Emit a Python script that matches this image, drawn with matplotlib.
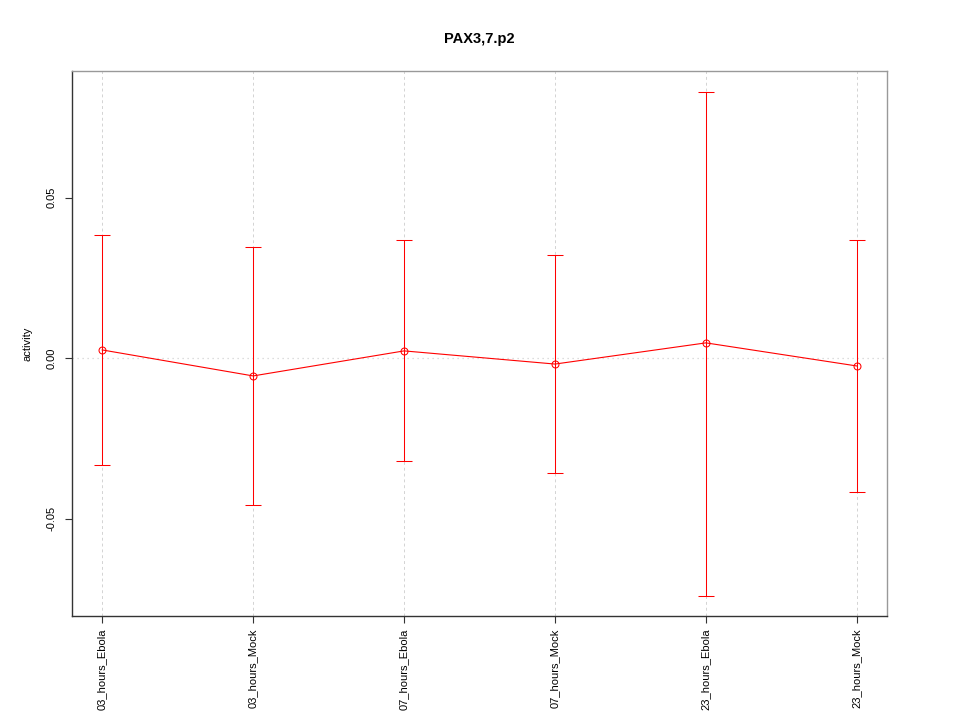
import matplotlib
matplotlib.use("Agg")
import matplotlib.pyplot as plt

plt.rcParams['font.family'] = ['Liberation Sans', 'DejaVu Sans']

categories = ["03_hours_Ebola", "03_hours_Mock", "07_hours_Ebola",
              "07_hours_Mock", "23_hours_Ebola", "23_hours_Mock"]
means = [0.0026, -0.0055, 0.0023, -0.0018, 0.0048, -0.0024]
upper = [0.0384, 0.0347, 0.0368, 0.0321, 0.0831, 0.0368]
lower = [-0.0332, -0.0457, -0.0320, -0.0357, -0.0741, -0.0416]

x = list(range(1, len(categories) + 1))
yerr_lo = [m - l for m, l in zip(means, lower)]
yerr_hi = [u - m for m, u in zip(means, upper)]

fig = plt.figure(figsize=(9.6, 7.2), dpi=100)
ax = fig.add_axes([0.075, 0.1444, 0.849, 0.757])

for xi in x:
    ax.axvline(xi, color='#d3d3d3', linestyle=(0, (3, 3)), linewidth=0.7, zorder=0)
ax.axhline(0, color='#d3d3d3', linestyle=(0, (1, 3)), linewidth=0.9, zorder=0)

ax.errorbar(x, means, yerr=[yerr_lo, yerr_hi], color='red', ecolor='red',
            elinewidth=0.75, capsize=6, capthick=0.75, linewidth=0.8,
            marker='o', markersize=5, markerfacecolor='none',
            markeredgecolor='red', markeredgewidth=0.75)

ax.set_xlim(0.8, 6.2)
ax.set_ylim(-0.0803, 0.0895)
ax.set_xticks(x)
ax.set_xticklabels(categories, rotation=90, fontsize=8)
ax.set_yticks([-0.05, 0.0, 0.05])
ax.set_yticklabels(["-0.05", "0.00", "0.05"], rotation=90, va='center', fontsize=8)
ax.tick_params(axis='both', length=5, width=0.8, color='#333333')
ax.tick_params(axis='x', pad=4)
ax.tick_params(axis='y', pad=6)
ax.set_ylabel("activity", fontsize=8, labelpad=10)
ax.set_title("PAX3,7.p2", fontsize=10.5, fontweight='bold', pad=20)

for s in ['top', 'right']:
    ax.spines[s].set_color('#999999')
for s in ['left', 'bottom']:
    ax.spines[s].set_color('#333333')
for s in ax.spines.values():
    s.set_linewidth(1.0)

fig.savefig("out.png", dpi=100)
